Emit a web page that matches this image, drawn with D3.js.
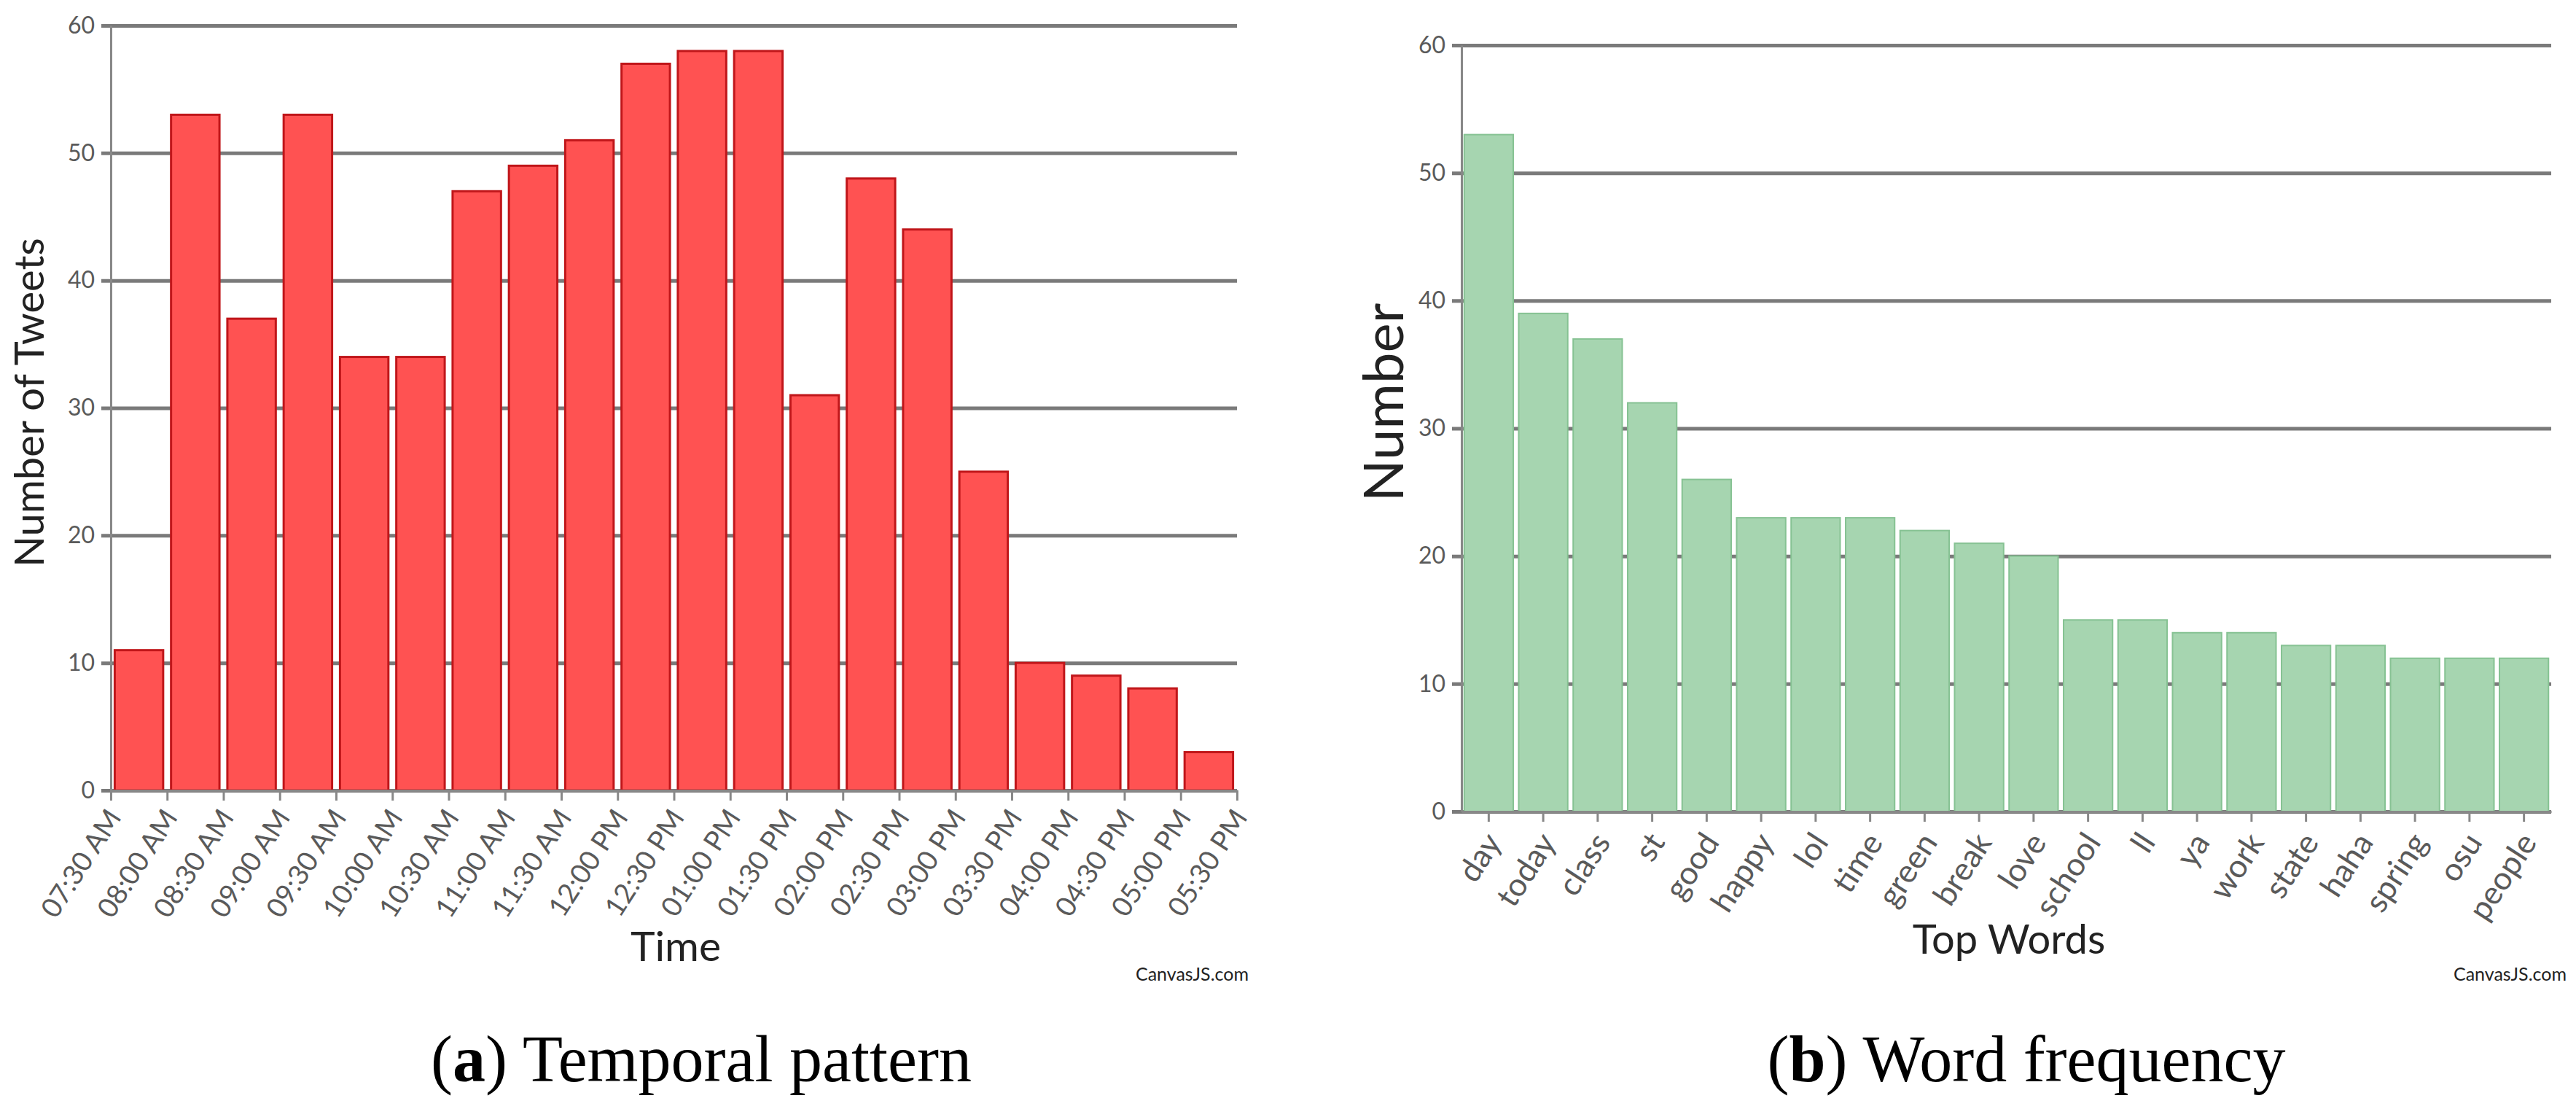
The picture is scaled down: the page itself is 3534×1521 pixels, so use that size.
<!DOCTYPE html>
<html lang="en">
<head>
<meta charset="UTF-8">
<title>Temporal pattern and word frequency</title>
<script src="https://d3js.org/d3.v7.min.js"></script>
<style>
    body { margin: 0; background: #fff; }
    svg { display: block; }
    .chart text { font-family: Lato, "Open Sans", sans-serif; }
    .grid line { stroke: #7a7a7a; stroke-width: 5; }
    .grid path { display: none; }
    .grid text { fill: #5a5a5a; font-size: 32px; }
    .axis path, .axis line { stroke: #888; stroke-width: 3; }
    .axis text { fill: #5a5a5a; }
    .title { fill: #222; }
    .credit { fill: #222; font-size: 25px; }
    .caption { font-family: "Liberation Serif", "DejaVu Serif", serif; font-size: 90px; fill: #000; }
</style>
</head>
<body>
<svg id="fig" width="3534" height="1521"></svg>
<script>
// (a) tweets per 30 minute slot
const timeLabels = ["07:30 AM", "08:00 AM", "08:30 AM", "09:00 AM", "09:30 AM", "10:00 AM",
    "10:30 AM", "11:00 AM", "11:30 AM", "12:00 PM", "12:30 PM", "01:00 PM", "01:30 PM",
    "02:00 PM", "02:30 PM", "03:00 PM", "03:30 PM", "04:00 PM", "04:30 PM", "05:00 PM", "05:30 PM"];
const tweetCounts = [11, 53, 37, 53, 34, 34, 47, 49, 51, 57, 58, 58, 31, 48, 44, 25, 10, 9, 8, 3];

// (b) top words
const words = ["day", "today", "class", "st", "good", "happy", "lol", "time", "green", "break",
    "love", "school", "ll", "ya", "work", "state", "haha", "spring", "osu", "people"];
const wordCounts = [53, 39, 37, 32, 26, 23, 23, 23, 22, 21, 20, 15, 15, 14, 14, 13, 13, 12, 12, 12];

const yTicks = [0, 10, 20, 30, 40, 50, 60];

const svg = d3.select("#fig");
svg.append("rect").attr("width", 3534).attr("height", 1521).attr("fill", "#fff");

// ---------- left chart ----------
const left = svg.append("g").attr("class", "chart");
const lx = d3.scaleLinear().domain([0, tweetCounts.length]).range([152, 1697]);
const ly = d3.scaleLinear().domain([0, 60]).range([1084, 35]);

left.append("g")
    .attr("class", "grid")
    .attr("transform", `translate(${lx.range()[0]},0)`)
    .call(d3.axisLeft(ly).tickValues(yTicks).tickSize(-(lx.range()[1] - lx.range()[0])).tickPadding(22))
    .call(g => g.selectAll(".tick line").attr("x1", -13));

const slotW = lx(1) - lx(0);
const barW = slotW * 0.86;
left.selectAll("rect.bar")
    .data(tweetCounts)
    .join("rect")
    .attr("class", "bar")
    .attr("x", (d, i) => lx(i + 0.5) - barW / 2)
    .attr("width", barW)
    .attr("y", d => ly(d))
    .attr("height", d => ly(0) - ly(d))
    .attr("fill", "#ff5252")
    .attr("stroke", "#c0161a")
    .attr("stroke-width", 3);

left.append("g")
    .attr("class", "axis")
    .attr("transform", `translate(${lx.range()[0]},0)`)
    .call(d3.axisLeft(ly).tickValues([]).tickSizeOuter(0));

const lxAxis = left.append("g")
    .attr("class", "axis")
    .attr("transform", `translate(0,${ly(0)})`)
    .call(d3.axisBottom(lx).tickValues(d3.range(timeLabels.length))
        .tickFormat(i => timeLabels[i]).tickSize(14).tickSizeOuter(0));
lxAxis.selectAll("text")
    .attr("font-size", 38)
    .attr("text-anchor", "end")
    .attr("dy", "0.35em")
    .attr("y", 0)
    .attr("transform", "translate(4,30) rotate(-57)");

left.append("text")
    .attr("class", "title")
    .attr("transform", "translate(60,552) rotate(-90)")
    .attr("text-anchor", "middle")
    .attr("font-size", 56)
    .text("Number of Tweets");
left.append("text")
    .attr("class", "title")
    .attr("x", 927).attr("y", 1318)
    .attr("text-anchor", "middle")
    .attr("font-size", 57)
    .text("Time");
left.append("text")
    .attr("class", "credit")
    .attr("x", 1713).attr("y", 1345)
    .attr("text-anchor", "end")
    .text("CanvasJS.com");

// ---------- right chart ----------
const right = svg.append("g").attr("class", "chart");
const rx = d3.scaleBand().domain(words).range([2005, 3500]).paddingInner(0.1).paddingOuter(0.05);
const ry = d3.scaleLinear().domain([0, 60]).range([1113, 62]);

right.append("g")
    .attr("class", "grid")
    .attr("transform", `translate(${rx.range()[0]},0)`)
    .call(d3.axisLeft(ry).tickValues(yTicks).tickSize(-(rx.range()[1] - rx.range()[0])).tickPadding(22))
    .call(g => g.selectAll(".tick line").attr("x1", -13));

right.selectAll("rect.bar")
    .data(wordCounts)
    .join("rect")
    .attr("class", "bar")
    .attr("x", (d, i) => rx(words[i]))
    .attr("width", rx.bandwidth())
    .attr("y", d => ry(d))
    .attr("height", d => ry(0) - ry(d))
    .attr("fill", "#a6d5b0")
    .attr("stroke", "#86c293")
    .attr("stroke-width", 2);

right.append("g")
    .attr("class", "axis")
    .attr("transform", `translate(${rx.range()[0]},0)`)
    .call(d3.axisLeft(ry).tickValues([]).tickSizeOuter(0));

const rxAxis = right.append("g")
    .attr("class", "axis")
    .attr("transform", `translate(0,${ry(0)})`)
    .call(d3.axisBottom(rx).tickSize(14).tickSizeOuter(0));
rxAxis.selectAll("text")
    .attr("font-size", 44)
    .attr("text-anchor", "end")
    .attr("dy", "0.35em")
    .attr("y", 0)
    .attr("transform", "translate(6,34) rotate(-57)");

right.append("text")
    .attr("class", "title")
    .attr("transform", "translate(1925,552) rotate(-90)")
    .attr("text-anchor", "middle")
    .attr("font-size", 76)
    .text("Number");
right.append("text")
    .attr("class", "title")
    .attr("x", 2756).attr("y", 1308)
    .attr("text-anchor", "middle")
    .attr("font-size", 56)
    .text("Top Words");
right.append("text")
    .attr("class", "credit")
    .attr("x", 3521).attr("y", 1345)
    .attr("text-anchor", "end")
    .text("CanvasJS.com");

// ---------- captions ----------
const captions = [
    { tag: "a", text: " Temporal pattern", cx: 962 },
    { tag: "b", text: " Word frequency", cx: 2780 }
];
captions.forEach(c => {
    const t = svg.append("text")
        .attr("class", "caption")
        .attr("x", c.cx).attr("y", 1483)
        .attr("text-anchor", "middle");
    t.append("tspan").text("(");
    t.append("tspan").attr("font-weight", "bold").text(c.tag);
    t.append("tspan").text(")" + c.text);
});
</script>
</body>
</html>
